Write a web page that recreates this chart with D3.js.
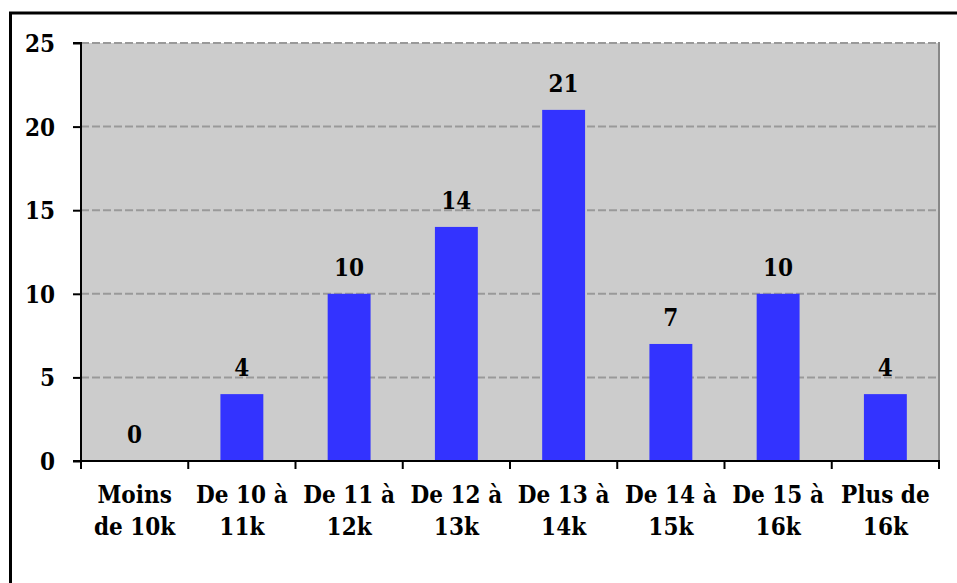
<!DOCTYPE html>
<html>
<head>
<meta charset="utf-8">
<script src="https://cdn.jsdelivr.net/npm/d3@7"></script>
<style>
  html, body { margin: 0; padding: 0; background: #ffffff; }
  svg text {
    font-family: "DejaVu Serif Condensed", "DejaVu Serif", serif;
    font-stretch: condensed;
    font-weight: bold;
    fill: #000;
  }
</style>
</head>
<body>
<svg id="chart" width="957" height="583"></svg>
<script>
// Salary bands (two-line labels) and the number of people in each
const categories = [
  ["Moins", "de 10k"],
  ["De 10 à", "11k"],
  ["De 11 à", "12k"],
  ["De 12 à", "13k"],
  ["De 13 à", "14k"],
  ["De 14 à", "15k"],
  ["De 15 à", "16k"],
  ["Plus de", "16k"]
];
const counts = [0, 4, 10, 14, 21, 7, 10, 4];
const yTicks = [0, 5, 10, 15, 20, 25];

const svg = d3.select("#chart");
const W = 957, H = 583;
const plot = { left: 81, right: 939, top: 43, bottom: 461 };

// Frame around the whole chart
svg.append("rect")
  .attr("x", 10.5).attr("y", 13)
  .attr("width", W + 20).attr("height", H + 20)
  .attr("fill", "none").attr("stroke", "#000").attr("stroke-width", 3);

const ids = categories.map((c, i) => i);
const x = d3.scaleBand()
  .domain(ids)
  .range([plot.left, plot.right])
  .paddingInner(0.6)
  .paddingOuter(0.3);
const step = x.step();
const y = d3.scaleLinear().domain([0, 25]).range([plot.bottom, plot.top]);

// Plot background
svg.append("rect")
  .attr("x", plot.left).attr("y", plot.top)
  .attr("width", plot.right - plot.left).attr("height", plot.bottom - plot.top)
  .attr("fill", "#cccccc");

// Dashed horizontal gridlines
svg.append("g").selectAll("line")
  .data(yTicks.filter(v => v > 0))
  .join("line")
  .attr("x1", plot.left).attr("x2", plot.right)
  .attr("y1", d => y(d)).attr("y2", d => y(d))
  .attr("stroke", "#999999").attr("stroke-width", 2)
  .attr("stroke-dasharray", "8,3");

// Right edge of the plot area
svg.append("line")
  .attr("x1", plot.right).attr("x2", plot.right)
  .attr("y1", plot.top - 1).attr("y2", plot.bottom)
  .attr("stroke", "#888888").attr("stroke-width", 2);

// Bars
svg.append("g").selectAll("rect")
  .data(counts)
  .join("rect")
  .attr("x", (d, i) => x(i))
  .attr("y", d => y(d))
  .attr("width", x.bandwidth())
  .attr("height", d => y(0) - y(d))
  .attr("fill", "#3333ff");

// Value labels above the bars
svg.append("g").selectAll("text")
  .data(counts)
  .join("text")
  .attr("x", (d, i) => x(i) + x.bandwidth() / 2)
  .attr("y", d => y(d) - 18)
  .attr("text-anchor", "middle")
  .style("font-size", "24px")
  .text(d => d);

// Y axis
const yAxis = d3.axisLeft(y).tickValues(yTicks).tickSize(8).tickPadding(18);
const gy = svg.append("g").attr("transform", `translate(${plot.left},0)`).call(yAxis);
gy.select(".domain").attr("stroke", "#000").attr("stroke-width", 2)
  .attr("d", `M-8,${plot.top}H0V${plot.bottom}`);
gy.selectAll(".tick line").attr("stroke", "#000").attr("stroke-width", 2);
gy.selectAll(".tick text")
  .style("font-size", "24px")
  .attr("dy", "0.35em");

// X axis: baseline with ticks at the band boundaries
const xAxisG = svg.append("g");
xAxisG.append("line")
  .attr("x1", plot.left - 8).attr("x2", plot.right + 1)
  .attr("y1", plot.bottom).attr("y2", plot.bottom)
  .attr("stroke", "#000").attr("stroke-width", 2);
xAxisG.selectAll("line.tick")
  .data(d3.range(categories.length + 1))
  .join("line")
  .attr("class", "tick")
  .attr("x1", i => plot.left + i * step).attr("x2", i => plot.left + i * step)
  .attr("y1", plot.bottom).attr("y2", plot.bottom + 8)
  .attr("stroke", "#000").attr("stroke-width", 2);

// Category labels on two lines
const labels = svg.append("g").selectAll("text")
  .data(categories)
  .join("text")
  .attr("text-anchor", "middle")
  .style("font-size", "24px");
labels.each(function (d, i) {
  const t = d3.select(this);
  const cx = x(i) + x.bandwidth() / 2;
  d.forEach((line, k) => {
    t.append("tspan").attr("x", cx).attr("y", 503 + k * 32).text(line);
  });
});
</script>
</body>
</html>
